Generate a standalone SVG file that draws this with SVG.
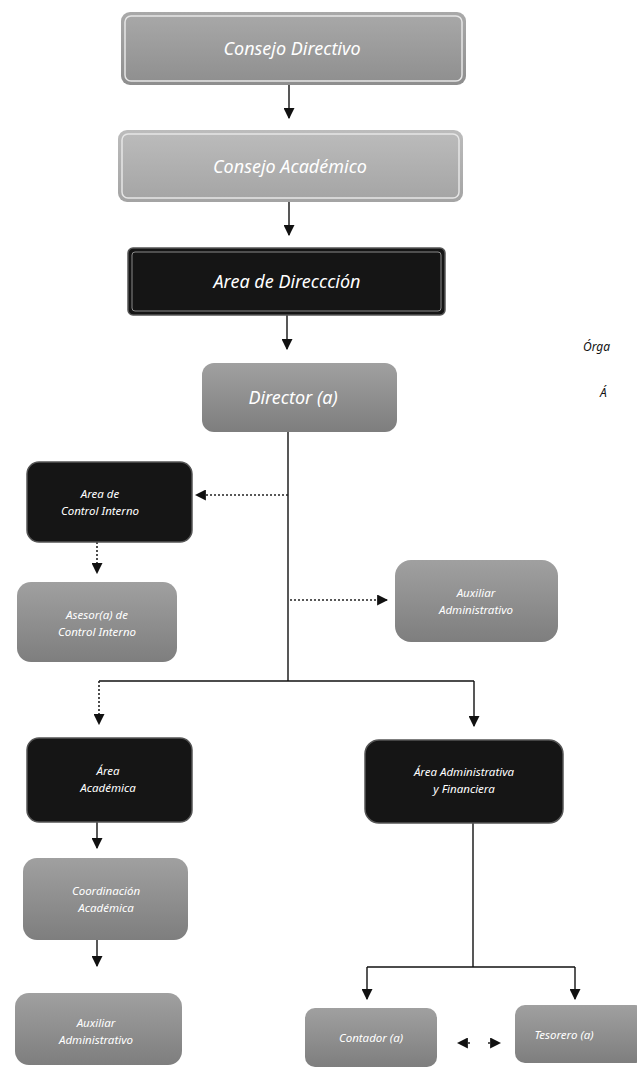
<svg xmlns="http://www.w3.org/2000/svg" width="637" height="1070" viewBox="0 0 637 1070">
<style>
  .lbl { font-family: "Noto Sans", "Open Sans", sans-serif; font-style: italic; fill: #ffffff; text-anchor: middle; }
  .big { font-size: 18px; }
  .sm { font-size: 11.5px; }
  .dark { fill: #151515; stroke: #555; stroke-width: 1.5; }
  .lightbox { stroke: #e6e6e6; stroke-width: 1.5; fill: none; }
  .line { stroke: #111; stroke-width: 1.4; fill: none; }
  .dot { stroke: #222; stroke-width: 1.6; stroke-dasharray: 2 2; fill: none; }
  .side { font-family: "Noto Sans", "Open Sans", sans-serif; font-style: italic; font-size: 12px; fill: #111; }
</style>
<defs>
  <linearGradient id="g1" x1="0" y1="0" x2="0" y2="1">
    <stop offset="0" stop-color="#a9a9a9"/><stop offset="1" stop-color="#8e8e8e"/>
  </linearGradient>
  <linearGradient id="g2" x1="0" y1="0" x2="0" y2="1">
    <stop offset="0" stop-color="#bcbcbc"/><stop offset="1" stop-color="#a4a4a4"/>
  </linearGradient>
  <linearGradient id="g3" x1="0" y1="0" x2="0" y2="1">
    <stop offset="0" stop-color="#a0a0a0"/><stop offset="1" stop-color="#7e7e7e"/>
  </linearGradient>
  <marker id="ah" viewBox="0 0 10 10" refX="9" refY="5" markerWidth="11" markerHeight="11" markerUnits="userSpaceOnUse" orient="auto">
    <path d="M0,0 L10,5 L0,10 Z" fill="#111"/>
  </marker>
</defs>

<g id="connectors">
  <line class="line" x1="289" y1="85" x2="289" y2="118" marker-end="url(#ah)"/>
  <line class="line" x1="289" y1="202" x2="289" y2="235" marker-end="url(#ah)"/>
  <line class="line" x1="287" y1="315" x2="287" y2="349" marker-end="url(#ah)"/>
  <line class="line" x1="288" y1="432" x2="288" y2="681"/>
  <line class="dot" x1="288" y1="495" x2="196" y2="495" marker-end="url(#ah)"/>
  <line class="dot" x1="97" y1="542" x2="97" y2="573" marker-end="url(#ah)"/>
  <line class="dot" x1="290" y1="600" x2="387" y2="600" marker-end="url(#ah)"/>
  <line class="line" x1="99" y1="681" x2="474" y2="681"/>
  <line class="dot" x1="99" y1="681" x2="99" y2="724" marker-end="url(#ah)"/>
  <line class="line" x1="474" y1="681" x2="474" y2="726" marker-end="url(#ah)"/>
  <line class="line" x1="97" y1="822" x2="97" y2="848" marker-end="url(#ah)"/>
  <line class="line" x1="97" y1="940" x2="97" y2="966" marker-end="url(#ah)"/>
  <line class="line" x1="473" y1="823" x2="473" y2="967"/>
  <line class="line" x1="367" y1="967" x2="575" y2="967"/>
  <line class="line" x1="367" y1="967" x2="367" y2="999" marker-end="url(#ah)"/>
  <line class="line" x1="575" y1="967" x2="575" y2="999" marker-end="url(#ah)"/>
  <line class="dot" x1="470" y1="1043" x2="458" y2="1043" marker-end="url(#ah)"/>
  <line class="dot" x1="488" y1="1043" x2="500" y2="1043" marker-end="url(#ah)"/>
</g>

<g id="consejo-directivo">
  <rect x="121" y="12" width="345" height="73" rx="9" fill="url(#g1)"/>
  <rect class="lightbox" x="125" y="16" width="337" height="65" rx="6"/>
  <text class="lbl big" x="292" y="55">Consejo Directivo</text>
</g>
<g id="consejo-academico">
  <rect x="118" y="130" width="345" height="72" rx="9" fill="url(#g2)"/>
  <rect class="lightbox" x="122" y="134" width="337" height="64" rx="6"/>
  <text class="lbl big" x="290" y="173">Consejo Académico</text>
</g>
<g id="area-direccion">
  <rect class="dark" x="128" y="248" width="317" height="67" rx="5"/>
  <rect x="132" y="252" width="309" height="59" rx="3" fill="none" stroke="#8a8a8a" stroke-width="1"/>
  <text class="lbl big" x="287" y="288">Area de Direccción</text>
</g>
<g id="director">
  <rect x="202" y="363" width="195" height="69" rx="12" fill="url(#g3)"/>
  <text class="lbl big" x="293" y="404">Director (a)</text>
</g>
<g id="control-interno">
  <rect class="dark" x="27" y="462" width="165" height="80" rx="12"/>
  <text class="lbl sm" x="100" y="498">Area de</text>
  <text class="lbl sm" x="100" y="515">Control Interno</text>
</g>
<g id="asesor-control">
  <rect x="17" y="582" width="160" height="80" rx="14" fill="url(#g3)"/>
  <text class="lbl sm" x="97" y="619">Asesor(a) de</text>
  <text class="lbl sm" x="97" y="636">Control Interno</text>
</g>
<g id="auxiliar-admin-1">
  <rect x="395" y="560" width="163" height="82" rx="16" fill="url(#g3)"/>
  <text class="lbl sm" x="476" y="597">Auxiliar</text>
  <text class="lbl sm" x="476" y="614">Administrativo</text>
</g>
<g id="area-academica">
  <rect class="dark" x="27" y="738" width="165" height="84" rx="12"/>
  <text class="lbl sm" x="108" y="775">Área</text>
  <text class="lbl sm" x="108" y="792">Académica</text>
</g>
<g id="coordinacion">
  <rect x="23" y="858" width="165" height="82" rx="14" fill="url(#g3)"/>
  <text class="lbl sm" x="106" y="895">Coordinación</text>
  <text class="lbl sm" x="106" y="912">Académica</text>
</g>
<g id="auxiliar-admin-2">
  <rect x="15" y="993" width="167" height="72" rx="14" fill="url(#g3)"/>
  <text class="lbl sm" x="96" y="1027">Auxiliar</text>
  <text class="lbl sm" x="96" y="1044">Administrativo</text>
</g>
<g id="area-administrativa">
  <rect class="dark" x="365" y="740" width="198" height="83" rx="14"/>
  <text class="lbl sm" x="464" y="776">Área Administrativa</text>
  <text class="lbl sm" x="464" y="793">y Financiera</text>
</g>
<g id="contador">
  <rect x="305" y="1008" width="132" height="59" rx="10" fill="url(#g3)"/>
  <text class="lbl sm" x="371" y="1042">Contador (a)</text>
</g>
<g id="tesorero">
  <rect x="515" y="1005" width="130" height="58" rx="10" fill="url(#g3)"/>
  <text class="lbl sm" x="564" y="1039">Tesorero (a)</text>
</g>

<g id="side-text">
  <text class="side" x="583" y="351">Órga</text>
  <text class="side" x="600" y="397">Á</text>
</g>
</svg>
